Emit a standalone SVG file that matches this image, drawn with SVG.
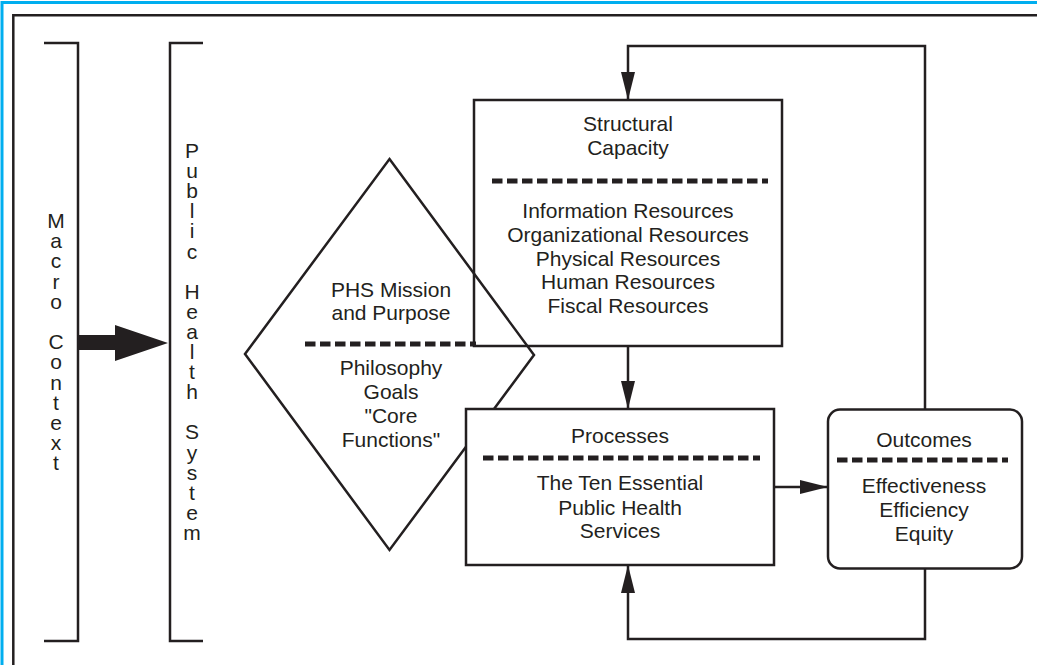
<svg xmlns="http://www.w3.org/2000/svg" width="1037" height="665" viewBox="0 0 1037 665">
<style>
.ln{fill:none;stroke:#231f20;stroke-width:2.5;stroke-linejoin:miter}
.box{fill:none;stroke:#231f20;stroke-width:2.5}
.dash{fill:none;stroke:#231f20;stroke-width:5;stroke-dasharray:10.5 4.5}
.t{font-family:"Liberation Sans",Arial,Helvetica,sans-serif;font-size:21px;fill:#231f20;text-anchor:middle}
</style>
<defs>
<marker id="ah" viewBox="0 0 28 14" refX="28" refY="7" markerWidth="28" markerHeight="14" markerUnits="userSpaceOnUse" orient="auto">
<path d="M0,0 L28,7 L0,14 z" fill="#231f20"/>
</marker>
</defs>
<rect x="0" y="0" width="1037" height="665" fill="#ffffff"/>
<g id="frame">
<path d="M2,665 V2.5 H1037" fill="none" stroke="#00aeef" stroke-width="3"/>
<path d="M13.3,665 V15.3 H1037" fill="none" stroke="#231f20" stroke-width="2.5"/>
</g>
<g id="macro-context">
<path class="ln" d="M44,43 H78 V641 H44"/>
<text class="t"><tspan x="56" y="228">M</tspan><tspan x="56" y="248.2">a</tspan><tspan x="56" y="268.4">c</tspan><tspan x="56" y="288.6">r</tspan><tspan x="56" y="308.8">o</tspan><tspan x="56" y="349.2">C</tspan><tspan x="56" y="369.4">o</tspan><tspan x="56" y="389.6">n</tspan><tspan x="56" y="409.8">t</tspan><tspan x="56" y="430">e</tspan><tspan x="56" y="450.2">x</tspan><tspan x="56" y="470.4">t</tspan></text>
</g>
<g id="public-health-system">
<path class="ln" d="M203,43 H170 V641 H203"/>
<text class="t"><tspan x="192" y="158">P</tspan><tspan x="192" y="178.1">u</tspan><tspan x="192" y="198.2">b</tspan><tspan x="192" y="218.3">l</tspan><tspan x="192" y="238.4">i</tspan><tspan x="192" y="258.5">c</tspan><tspan x="192" y="298.7">H</tspan><tspan x="192" y="318.8">e</tspan><tspan x="192" y="338.9">a</tspan><tspan x="192" y="359">l</tspan><tspan x="192" y="379.1">t</tspan><tspan x="192" y="399.2">h</tspan><tspan x="192" y="439.4">S</tspan><tspan x="192" y="459.5">y</tspan><tspan x="192" y="479.6">s</tspan><tspan x="192" y="499.7">t</tspan><tspan x="192" y="519.8">e</tspan><tspan x="192" y="539.9">m</tspan></text>
</g>
<g id="structural-capacity">
<rect class="box" x="474" y="100" width="308" height="246"/>
<text class="t" x="628" y="131">Structural</text>
<text class="t" x="628" y="155">Capacity</text>
<line class="dash" x1="492" y1="181" x2="768" y2="181"/>
<text class="t" x="628" y="218">Information Resources</text>
<text class="t" x="628" y="242">Organizational Resources</text>
<text class="t" x="628" y="266">Physical Resources</text>
<text class="t" x="628" y="289">Human Resources</text>
<text class="t" x="628" y="313">Fiscal Resources</text>
</g>
<g id="phs-mission">
<polygon class="box" points="389.5,159 534,355 389.5,550 245,354"/>
<text class="t" x="391" y="297">PHS Mission</text>
<text class="t" x="391" y="320">and Purpose</text>
<line class="dash" x1="305" y1="344" x2="476" y2="344"/>
<text class="t" x="391" y="375">Philosophy</text>
<text class="t" x="391" y="399">Goals</text>
<text class="t" x="391" y="423">"Core</text>
<text class="t" x="391" y="447">Functions"</text>
</g>
<g id="processes">
<rect x="466" y="409" width="308" height="156" fill="#ffffff" stroke="#231f20" stroke-width="2.5"/>
<text class="t" x="620" y="443">Processes</text>
<line class="dash" x1="483" y1="458" x2="760" y2="458"/>
<text class="t" x="620" y="490">The Ten Essential</text>
<text class="t" x="620" y="515">Public Health</text>
<text class="t" x="620" y="538">Services</text>
</g>
<g id="outcomes">
<rect class="box" x="828" y="409.5" width="194" height="159" rx="12" ry="12"/>
<text class="t" x="924" y="447">Outcomes</text>
<line class="dash" x1="837" y1="460" x2="1008" y2="460"/>
<text class="t" x="924" y="493">Effectiveness</text>
<text class="t" x="924" y="517">Efficiency</text>
<text class="t" x="924" y="541">Equity</text>
</g>
<g id="connectors">
<polygon points="78,335 115,335 115,325 168,343 115,361 115,350 78,350" fill="#231f20"/>
<path class="ln" d="M925,409.5 V46 H628 V100" marker-end="url(#ah)"/>
<path class="ln" d="M628,346 V409" marker-end="url(#ah)"/>
<path class="ln" d="M774,487 H828" marker-end="url(#ah)"/>
<path class="ln" d="M925,568.5 V639 H628 V565" marker-end="url(#ah)"/>
</g>
</svg>
